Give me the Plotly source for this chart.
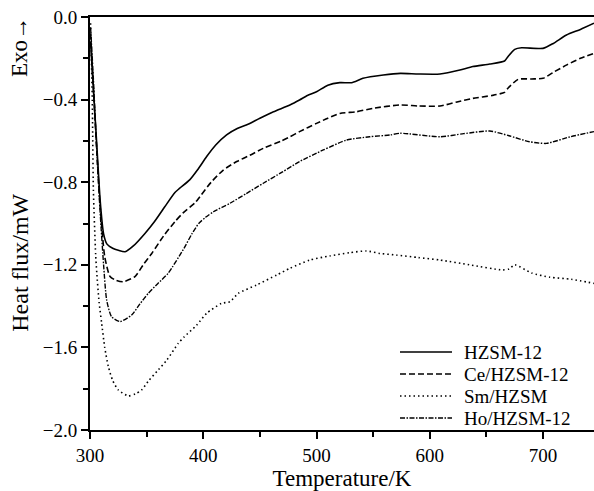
import plotly.graph_objects as go

# ---- data ----
t_hzsm = [300.5, 303, 306, 309, 312, 315, 320, 325, 331, 338, 348.5, 357, 366, 375, 379, 388, 395, 403, 411,
          420.6, 430, 438, 450, 462, 476.5, 485, 492, 500, 510, 520.6, 531, 541, 559, 574, 590, 609, 626.6,
          638, 653, 666, 669, 675, 681, 700, 709, 720.7, 733, 745]
y_hzsm = [-0.12, -0.35, -0.62, -0.89, -1.05, -1.10, -1.12, -1.13, -1.137, -1.11, -1.048, -0.99, -0.919, -0.85,
          -0.83, -0.789, -0.74, -0.676, -0.62, -0.571, -0.54, -0.523, -0.49, -0.459, -0.426, -0.402, -0.38,
          -0.362, -0.33, -0.318, -0.318, -0.297, -0.281, -0.273, -0.276, -0.276, -0.257, -0.24, -0.228,
          -0.213, -0.192, -0.157, -0.149, -0.152, -0.128, -0.087, -0.06, -0.03]

t_ce = [300.5, 303, 306, 309, 313, 317.7, 323, 329.4, 339.7, 347, 354.5, 365, 375, 382, 392.7, 397, 407, 417.7,
        429.5, 441, 453, 469, 476.5, 485, 500, 510, 520.6, 535, 550, 574, 590, 609, 625, 638, 655, 666, 669,
        678, 690, 700, 710, 721, 733, 745]
y_ce = [-0.08, -0.35, -0.65, -0.92, -1.16, -1.257, -1.275, -1.282, -1.257, -1.2, -1.145, -1.06, -0.991, -0.95,
        -0.9, -0.87, -0.8, -0.741, -0.70, -0.67, -0.636, -0.6, -0.58, -0.555, -0.515, -0.49, -0.467, -0.459,
        -0.442, -0.426, -0.431, -0.431, -0.41, -0.394, -0.38, -0.365, -0.345, -0.302, -0.3, -0.297, -0.265,
        -0.232, -0.2, -0.176]

t_sm = [300.5, 302, 303, 305, 306, 308, 310.3, 313, 316.2, 320, 325, 333.8, 340, 345.6, 352, 360.3, 368, 378,
        383, 394.2, 403, 416, 423.6, 431, 447, 465, 476.5, 494, 511.8, 529.5, 544, 556, 570.7, 590, 609,
        635, 664, 670, 675, 690, 706, 725, 745]
y_sm = [-0.03, -0.4, -0.84, -1.15, -1.24, -1.38, -1.483, -1.6, -1.693, -1.76, -1.806, -1.835, -1.825, -1.806,
        -1.76, -1.709, -1.66, -1.58, -1.55, -1.492, -1.435, -1.387, -1.379, -1.338, -1.298, -1.249, -1.217,
        -1.177, -1.157, -1.141, -1.133, -1.145, -1.153, -1.165, -1.177, -1.2, -1.225, -1.22, -1.20, -1.24,
        -1.26, -1.27, -1.29]

t_ho = [300.5, 303, 306, 309, 312, 314.7, 319, 326.5, 336.8, 344, 351.5, 360, 369, 383, 390, 396, 402, 409,
        423.6, 438, 453, 470, 485, 506, 526.5, 547, 565, 574, 609, 630, 653, 670, 688, 703, 724, 745]
y_ho = [-0.05, -0.3, -0.65, -0.95, -1.2, -1.37, -1.451, -1.475, -1.443, -1.39, -1.338, -1.29, -1.241, -1.12,
        -1.05, -1.0, -0.97, -0.943, -0.902, -0.855, -0.805, -0.75, -0.70, -0.644, -0.596, -0.58, -0.571,
        -0.563, -0.58, -0.565, -0.552, -0.575, -0.604, -0.612, -0.58, -0.555]

series_names = ["HZSM-12", "Ce/HZSM-12", "Sm/HZSM", "Ho/HZSM-12"]
x_ticks = [300, 400, 500, 600, 700]
y_ticks = [0.0, -0.4, -0.8, -1.2, -1.6, -2.0]

FONT = "Liberation Serif, Times New Roman, serif"

fig = go.Figure()
styles = [
    dict(dash="solid", width=1.6),
    dict(dash="6px,3px", width=1.6),
    dict(dash="1.5px,3px", width=1.6),
    dict(dash="5px,1.5px,1.5px,1.5px", width=1.4),
]
for name, xs, ys, st in zip(series_names, [t_hzsm, t_ce, t_sm, t_ho], [y_hzsm, y_ce, y_sm, y_ho], styles):
    fig.add_trace(go.Scatter(x=xs, y=ys, mode="lines", name=name, showlegend=False,
                             line=dict(color="black", shape="spline", smoothing=0.6, **st)))

# legend drawn in paper coordinates (plot area: x 90..594 px, y 17..430 px)
PL, PW, PB, PH = 90, 504, 430, 413
def px_x(p):
    return (p - PL) / PW
def px_y(p):
    return (PB - p) / PH

legend_rows = [352, 374, 396, 418]
for name, st, row in zip(series_names, styles, legend_rows):
    fig.add_shape(type="line", xref="paper", yref="paper",
                  x0=px_x(400), x1=px_x(452), y0=px_y(row), y1=px_y(row),
                  line=dict(color="black", width=st["width"], dash=st["dash"]))
    fig.add_annotation(text=name, xref="paper", yref="paper", x=px_x(462), y=px_y(row),
                       xanchor="left", yanchor="middle", showarrow=False,
                       font=dict(family=FONT, size=19))

fig.update_layout(
    width=594, height=491,
    margin=dict(l=90, r=0, t=17, b=61),
    paper_bgcolor="white", plot_bgcolor="white",
    font=dict(family=FONT, size=19, color="black"),
    showlegend=False,
)
fig.update_xaxes(
    range=[300, 745], tickvals=x_ticks, ticktext=[str(v) for v in x_ticks],
    ticks="outside", ticklen=7, tickwidth=2, tickcolor="black",
    minor=dict(dtick=50, tick0=300, ticks="outside", ticklen=5, tickwidth=1.5, tickcolor="black"),
    showline=True, linewidth=2, linecolor="black", mirror=True,
    showgrid=False, zeroline=False,
    title=dict(text="Temperature/K", font=dict(family=FONT, size=23), standoff=2),
    tickfont=dict(family=FONT, size=19),
)
fig.update_yaxes(
    range=[-2.0, 0.0], tickvals=y_ticks, ticktext=["0.0" if v == 0 else "\u2212%.1f" % abs(v) for v in y_ticks],
    ticks="outside", ticklen=7, tickwidth=2, tickcolor="black",
    minor=dict(dtick=0.2, tick0=0, ticks="outside", ticklen=5, tickwidth=1.5, tickcolor="black"),
    showline=True, linewidth=2, linecolor="black", mirror=False,
    showgrid=False, zeroline=False,
    tickfont=dict(family=FONT, size=19),
)
fig.add_annotation(text="Heat flux/mW", xref="paper", yref="paper", x=0, y=0.405,
                   xanchor="center", yanchor="middle", xshift=-70, textangle=-90, showarrow=False,
                   font=dict(family=FONT, size=24))
fig.add_annotation(text="Exo\u2192", xref="paper", yref="paper", x=0, y=1.0,
                   xanchor="center", yanchor="top", xshift=-71, yshift=2, textangle=-90, showarrow=False,
                   font=dict(family=FONT, size=23))

fig.write_html("out.html", config={"displayModeBar": False},
               post_script="document.body.style.margin='0px';document.body.style.overflow='hidden';")
